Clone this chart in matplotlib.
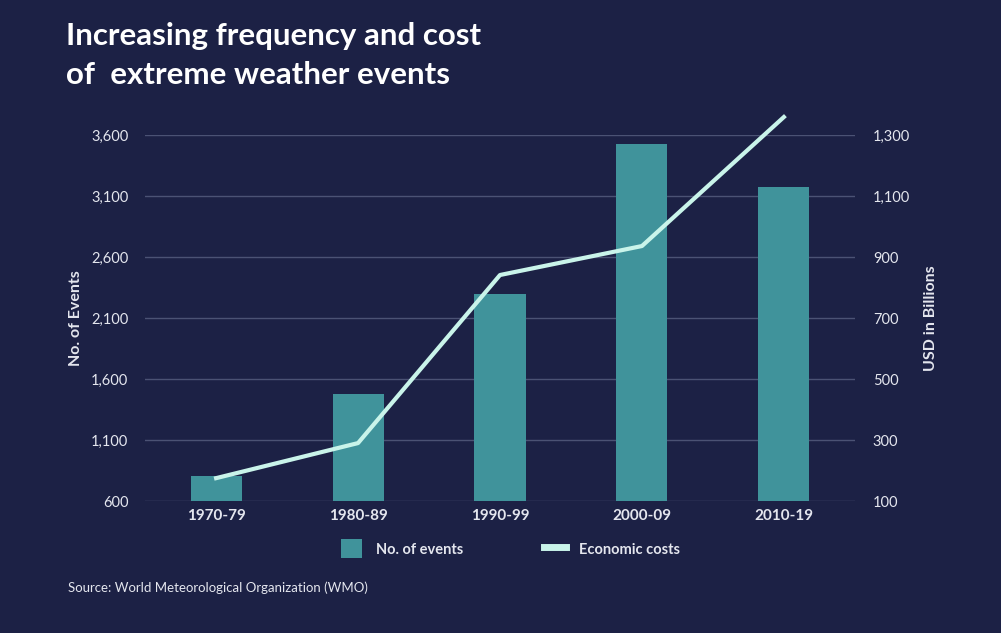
import matplotlib
matplotlib.use("Agg")
import matplotlib.pyplot as plt
from matplotlib.patches import Patch
from matplotlib.lines import Line2D

decades = ["1970-79", "1980-89", "1990-99", "2000-09", "2010-19"]
events = [805, 1477, 2297, 3526, 3174]
costs = [175, 290, 841, 936, 1359]

left_ticks = [600, 1100, 1600, 2100, 2600, 3100, 3600]
right_ticks = [100, 300, 500, 700, 900, 1100, 1300]

BG = "#1c2145"
BAR = "#40939b"
LINE = "#c9f4ea"
GRID = "#4b5274"
TXT = "#e4e6ee"

plt.rcParams['font.family'] = ['Lato', 'DejaVu Sans']

fig = plt.figure(figsize=(10.01, 6.33), dpi=100, facecolor=BG)
ax = fig.add_axes([0.145, 0.2085, 0.709, 0.5782])
ax.set_facecolor(BG)

x = list(range(len(decades)))
ax.bar(x, events, width=0.36, color=BAR, zorder=2)
ax.set_xlim(-0.5, 4.5)
ax.set_ylim(600, 3600)
ax.set_yticks(left_ticks)
ax.set_yticklabels([f"{v:,}" for v in left_ticks])
ax.set_xticks(x)
ax.set_xticklabels(decades, fontweight="bold")
ax.grid(axis="y", color=GRID, linewidth=1, zorder=0)
for s in ax.spines.values():
    s.set_visible(False)
ax.tick_params(axis="both", length=0, colors=TXT, labelsize=10.5)
ax.tick_params(axis="y", pad=12)
ax.tick_params(axis="x", pad=6, labelsize=11)
ax.set_ylabel("No. of Events", color=TXT, fontsize=11.5, fontweight="bold", labelpad=6)

ax2 = ax.twinx()
ax2.plot(x, costs, color=LINE, linewidth=3, clip_on=False, zorder=3)
ax2.set_ylim(100, 1300)
ax2.set_yticks(right_ticks)
ax2.set_yticklabels([f"{v:,}" for v in right_ticks])
for s in ax2.spines.values():
    s.set_visible(False)
ax2.tick_params(axis="y", length=0, colors=TXT, labelsize=10.5, pad=13)
ax2.set_ylabel("USD in Billions", color=TXT, fontsize=11.5, fontweight="bold", labelpad=10)

fig.text(0.066, 0.965, "Increasing frequency and cost\nof  extreme weather events",
         color="white", fontsize=22.5, fontweight="bold", va="top", linespacing=1.45)

handles = [Patch(facecolor=BAR, label="No. of events"),
           Line2D([0], [0], color=LINE, linewidth=5, label="Economic costs")]
leg = fig.legend(handles=handles, loc="center", bbox_to_anchor=(0.51, 0.133), ncol=2,
                 frameon=False, labelcolor=TXT, columnspacing=5.6, handlelength=1.45,
                 handleheight=1.6, handletextpad=0.9,
                 prop={"weight": "bold", "size": 10.5})

fig.text(0.068, 0.064, "Source: World Meteorological Organization (WMO)",
         color=TXT, fontsize=9.5)

fig.savefig("out.png", facecolor=BG)
